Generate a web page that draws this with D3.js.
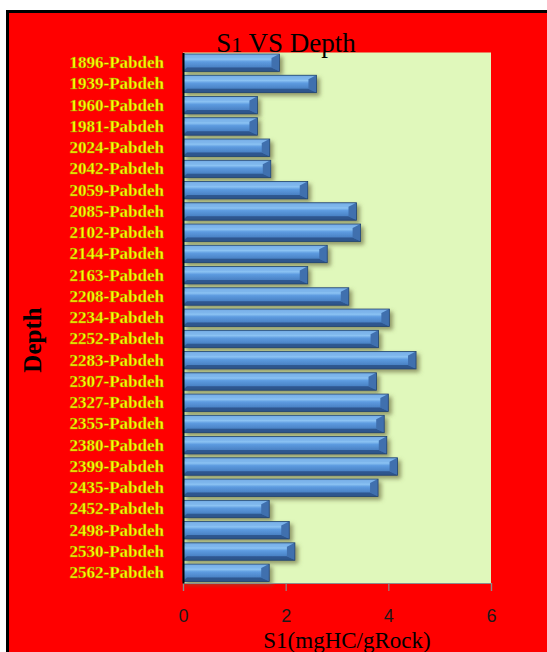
<!DOCTYPE html>
<html>
<head>
<meta charset="utf-8">
<script src="https://cdn.jsdelivr.net/npm/d3@7"></script>
<style>
  body { margin: 0; background: #fff; }
  svg { display: block; }
</style>
</head>
<body>
<script>
var WIDTH = 547;
var HEIGHT = 652;

// depths (sample labels) and S1 values
var depths = ["1896-Pabdeh", "1939-Pabdeh", "1960-Pabdeh", "1981-Pabdeh", "2024-Pabdeh",
              "2042-Pabdeh", "2059-Pabdeh", "2085-Pabdeh", "2102-Pabdeh", "2144-Pabdeh",
              "2163-Pabdeh", "2208-Pabdeh", "2234-Pabdeh", "2252-Pabdeh", "2283-Pabdeh",
              "2307-Pabdeh", "2327-Pabdeh", "2355-Pabdeh", "2380-Pabdeh", "2399-Pabdeh",
              "2435-Pabdeh", "2452-Pabdeh", "2498-Pabdeh", "2530-Pabdeh", "2562-Pabdeh"];
var s1Values = [1.88, 2.60, 1.45, 1.45, 1.69,
                1.71, 2.43, 3.38, 3.46, 2.81,
                2.43, 3.23, 4.02, 3.81, 4.54,
                3.77, 4.00, 3.92, 3.97, 4.18,
                3.80, 1.68, 2.07, 2.18, 1.68];
var xTicks = [0, 2, 4, 6];

var data = depths.map((d, i) => ({ depth: d, s1: s1Values[i] }));

var plot = { left: 183, right: 491, top: 52.5, bottom: 583 };

var svg = d3.select("body")
            .append("svg")
            .attr("width", WIDTH)
            .attr("height", HEIGHT);

var defs = svg.append("defs");

var grad = defs.append("linearGradient")
               .attr("id", "barGrad")
               .attr("x1", 0).attr("y1", 0).attr("x2", 0).attr("y2", 1);
[[0, "#3d6fae"], [0.12, "#6ea9e6"], [0.3, "#8cc3f3"], [0.45, "#5d9be0"],
 [0.75, "#4b83c6"], [1, "#2f5890"]].forEach(s => {
    grad.append("stop").attr("offset", s[0]).attr("stop-color", s[1]);
});

var shadow = defs.append("filter")
                 .attr("id", "barShadow")
                 .attr("x", "-10%").attr("y", "-30%")
                 .attr("width", "130%").attr("height", "180%");
shadow.append("feDropShadow")
      .attr("dx", 3).attr("dy", 3)
      .attr("stdDeviation", 2)
      .attr("flood-color", "#66663a")
      .attr("flood-opacity", 0.65);

// outer frame
svg.append("rect")
   .attr("x", 7.5).attr("y", 11.5)
   .attr("width", 600).attr("height", 700)
   .attr("fill", "#ff0000")
   .attr("stroke", "#000")
   .attr("stroke-width", 3);

// plot background
svg.append("rect")
   .attr("x", plot.left).attr("y", plot.top)
   .attr("width", plot.right - plot.left)
   .attr("height", plot.bottom - plot.top)
   .attr("fill", "#e0f8bb");

var x = d3.scaleLinear()
          .domain([0, 6])
          .range([plot.left, plot.right]);

var y = d3.scaleBand()
          .domain(depths)
          .range([plot.top, plot.bottom])
          .paddingInner(0.18)
          .paddingOuter(0.07);

// bars with bevel
var bars = svg.selectAll("g.bar")
              .data(data)
              .enter()
              .append("g")
              .classed("bar", true)
              .attr("filter", "url(#barShadow)");

bars.append("rect")
    .attr("x", x(0))
    .attr("y", d => y(d.depth))
    .attr("width", d => x(d.s1) - x(0))
    .attr("height", y.bandwidth())
    .attr("fill", "url(#barGrad)");

var bev = 4;
// top highlight
bars.append("path")
    .attr("d", d => {
        var x0 = x(0), x1 = x(d.s1), y0 = y(d.depth);
        return "M" + x0 + "," + y0 + "L" + x1 + "," + y0 + "L" + (x1 - bev * 2) + "," + (y0 + bev) +
               "L" + (x0 + bev) + "," + (y0 + bev) + "Z";
    })
    .attr("fill", "#7fb6ec")
    .attr("opacity", 0.8);
// bottom dark
bars.append("path")
    .attr("d", d => {
        var x0 = x(0), x1 = x(d.s1), y1 = y(d.depth) + y.bandwidth();
        return "M" + x0 + "," + y1 + "L" + x1 + "," + y1 + "L" + (x1 - bev * 2) + "," + (y1 - bev) +
               "L" + (x0 + bev) + "," + (y1 - bev) + "Z";
    })
    .attr("fill", "#2c5288")
    .attr("opacity", 0.85);
// right end
bars.append("path")
    .attr("d", d => {
        var x1 = x(d.s1), y0 = y(d.depth), y1 = y0 + y.bandwidth();
        return "M" + x1 + "," + y0 + "L" + x1 + "," + y1 + "L" + (x1 - bev * 2) + "," + (y1 - bev) +
               "L" + (x1 - bev * 2) + "," + (y0 + bev) + "Z";
    })
    .attr("fill", "#3f6fae");
bars.append("rect")
    .attr("x", x(0))
    .attr("y", d => y(d.depth))
    .attr("width", d => x(d.s1) - x(0))
    .attr("height", y.bandwidth())
    .attr("fill", "none")
    .attr("stroke", "#23466f")
    .attr("stroke-width", 0.8);

// x axis
var xAxis = svg.append("g")
               .attr("transform", "translate(0," + plot.bottom + ")")
               .call(d3.axisBottom(x).tickValues(xTicks).tickFormat(d3.format("d"))
                       .tickSize(8).tickPadding(18));
xAxis.select(".domain").attr("stroke", "#8c8c8c").attr("stroke-width", 1.2);
xAxis.selectAll(".tick line").attr("stroke", "#8c8c8c").attr("stroke-width", 1.2);
xAxis.selectAll(".tick text")
     .attr("fill", "#1a1a1a")
     .style("font-family", "'Liberation Sans', Arial, sans-serif")
     .style("font-size", "18px");

// y axis
var yAxis = svg.append("g")
               .attr("transform", "translate(" + plot.left + ",0)")
               .call(d3.axisLeft(y).tickSize(0).tickPadding(19));
yAxis.select(".domain").attr("stroke", "#000").attr("stroke-width", 2);
yAxis.selectAll(".tick text")
     .attr("fill", "#ffff00")
     .attr("stroke", "#a08a00")
     .attr("stroke-width", 0.4)
     .style("font-family", "'Liberation Serif', 'Times New Roman', serif")
     .style("font-weight", "bold")
     .style("font-size", "17px");

// title
var title = svg.append("text")
               .attr("x", 286).attr("y", 52)
               .attr("text-anchor", "middle")
               .style("font-family", "'Liberation Serif', 'Times New Roman', serif")
               .style("font-size", "27px")
               .attr("fill", "#000");
title.append("tspan").text("S");
title.append("tspan").style("font-size", "22px").text("1");
title.append("tspan").text(" VS Depth");

// x title
svg.append("text")
   .attr("x", 347).attr("y", 648)
   .attr("text-anchor", "middle")
   .style("font-family", "'Liberation Serif', 'Times New Roman', serif")
   .style("font-size", "23px")
   .attr("fill", "#000")
   .text("S1(mgHC/gRock)");

// y title
svg.append("text")
   .attr("transform", "translate(41,340) rotate(-90)")
   .attr("text-anchor", "middle")
   .style("font-family", "'Liberation Serif', 'Times New Roman', serif")
   .style("font-weight", "bold")
   .style("font-size", "25px")
   .attr("fill", "#000")
   .text("Depth");
</script>
</body>
</html>
